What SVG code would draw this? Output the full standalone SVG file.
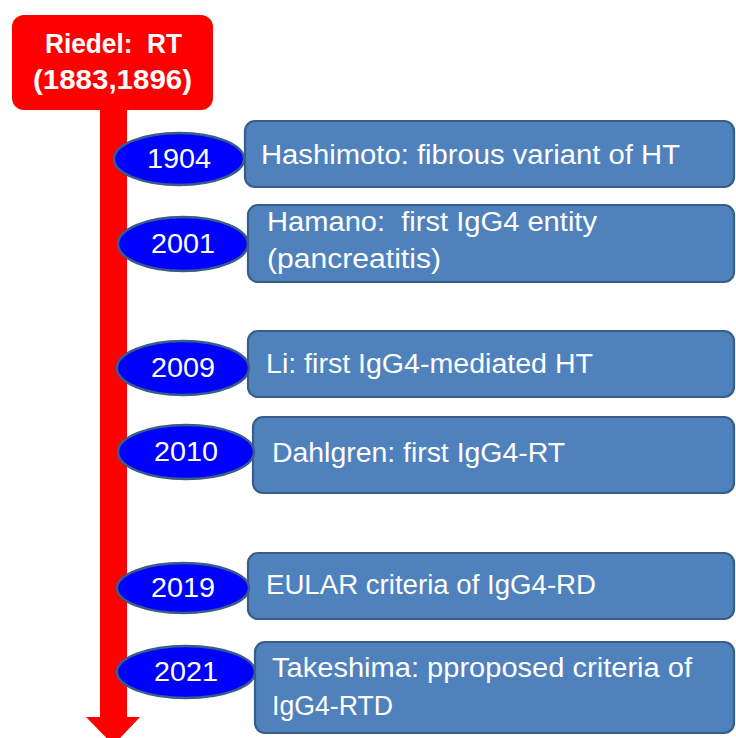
<svg xmlns="http://www.w3.org/2000/svg" width="736" height="738" viewBox="0 0 736 738">
  <style>
    .box { fill: #4F81BD; stroke: #385D8A; stroke-width: 2.2; }
    .year { fill: #0000FF; stroke: #385D8A; stroke-width: 2.5; }
    text { white-space: pre; }
    .t { font-family: "Liberation Sans", Arial, sans-serif; font-size: 27px; fill: #FFFFFF; }
    .yt { font-family: "Liberation Sans", Arial, sans-serif; font-size: 28px; fill: #FFFFFF; text-anchor: middle; }
    .head { font-family: "Liberation Sans", Arial, sans-serif; font-size: 27px; font-weight: bold; fill: #FFFFFF; }
  </style>
  <rect width="736" height="738" fill="#FFFFFF"/>

  <!-- timeline axis -->
  <g id="connectors">
    <rect x="100" y="100" width="27" height="618" fill="#FF0000"/>
    <polygon points="86,717 140,717 113.5,745" fill="#FF0000"/>
  </g>

  <!-- origin node -->
  <g id="riedel">
    <rect x="12" y="15" width="201" height="95" rx="12" ry="12" fill="#FF0000"/>
    <text class="head" x="45" y="53" xml:space="preserve" textLength="137" lengthAdjust="spacingAndGlyphs">Riedel:  RT</text>
    <text class="head" x="33" y="89" textLength="159" lengthAdjust="spacingAndGlyphs">(1883,1896)</text>
  </g>

  <g id="e1904">
    <rect class="box" x="245" y="121" width="489" height="66" rx="10" ry="10"/>
    <ellipse class="year" cx="179" cy="159" rx="65" ry="26"/>
    <text class="yt" x="179" y="168" textLength="64" lengthAdjust="spacingAndGlyphs">1904</text>
    <text class="t" x="261" y="164" textLength="419" lengthAdjust="spacingAndGlyphs">Hashimoto: fibrous variant of HT</text>
  </g>

  <g id="e2001">
    <rect class="box" x="248" y="205" width="486" height="77" rx="10" ry="10"/>
    <ellipse class="year" cx="183" cy="244" rx="65" ry="27"/>
    <text class="yt" x="183" y="253" textLength="64" lengthAdjust="spacingAndGlyphs">2001</text>
    <text class="t" x="267" y="231" xml:space="preserve" textLength="330" lengthAdjust="spacingAndGlyphs">Hamano:  first IgG4 entity</text>
    <text class="t" x="267" y="268" textLength="174" lengthAdjust="spacingAndGlyphs">(pancreatitis)</text>
  </g>

  <g id="e2009">
    <rect class="box" x="248" y="331" width="486" height="66" rx="10" ry="10"/>
    <ellipse class="year" cx="183" cy="368" rx="66" ry="27"/>
    <text class="yt" x="183" y="377" textLength="64" lengthAdjust="spacingAndGlyphs">2009</text>
    <text class="t" x="266" y="373" textLength="327" lengthAdjust="spacingAndGlyphs">Li: first IgG4-mediated HT</text>
  </g>

  <g id="e2010">
    <rect class="box" x="253" y="417" width="481" height="76" rx="10" ry="10"/>
    <ellipse class="year" cx="186" cy="452" rx="68" ry="27"/>
    <text class="yt" x="186" y="461" textLength="64" lengthAdjust="spacingAndGlyphs">2010</text>
    <text class="t" x="272" y="462" textLength="293" lengthAdjust="spacingAndGlyphs">Dahlgren: first IgG4-RT</text>
  </g>

  <g id="e2019">
    <rect class="box" x="248" y="553" width="486" height="66" rx="10" ry="10"/>
    <ellipse class="year" cx="183" cy="588" rx="66" ry="25"/>
    <text class="yt" x="183" y="597" textLength="64" lengthAdjust="spacingAndGlyphs">2019</text>
    <text class="t" x="266" y="594" textLength="330" lengthAdjust="spacingAndGlyphs">EULAR criteria of IgG4-RD</text>
  </g>

  <g id="e2021">
    <rect class="box" x="255" y="642" width="479" height="91" rx="10" ry="10"/>
    <ellipse class="year" cx="186" cy="672" rx="69" ry="26"/>
    <text class="yt" x="186" y="681" textLength="64" lengthAdjust="spacingAndGlyphs">2021</text>
    <text class="t" x="272" y="677" textLength="420" lengthAdjust="spacingAndGlyphs">Takeshima: pproposed criteria of</text>
    <text class="t" x="272" y="715" textLength="121" lengthAdjust="spacingAndGlyphs">IgG4-RTD</text>
  </g>
</svg>
